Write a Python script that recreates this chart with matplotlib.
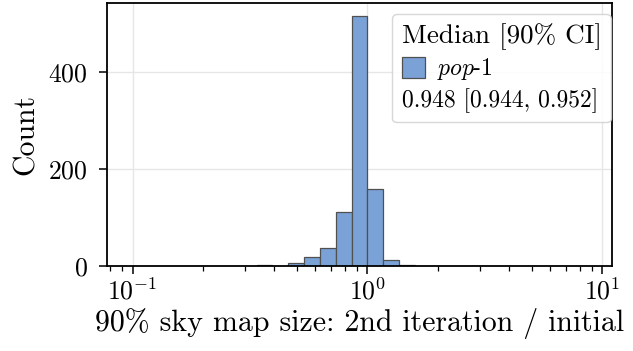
import matplotlib
matplotlib.use("Agg")
import matplotlib.pyplot as plt
import numpy as np
from matplotlib.patches import Patch

# histogram of the sky map size ratio (log-spaced bins)
bin_edges = np.logspace(-1.011, 0.9436, 30)
counts = [1, 0, 0, 0, 1, 0, 0, 0, 2, 1, 6, 19, 38, 111, 516,
          159, 12, 3, 0, 0, 0, 0, 0, 0, 0, 0, 0, 0, 1]
series_label = r"$\mathit{pop}$-$\mathit{1}$"
summary = "0.948 [0.944, 0.952]"

plt.rcParams["font.family"] = "serif"
plt.rcParams["font.serif"] = ["cmr10"]
plt.rcParams["mathtext.fontset"] = "cm"
plt.rcParams["axes.formatter.use_mathtext"] = True
plt.rcParams["font.size"] = 18.5

bar_color = "#7ba2d6"

fig = plt.figure(figsize=(6.33, 3.51), dpi=100)
ax = fig.add_axes([0.169, 0.242, 0.798, 0.749])

centers = np.sqrt(bin_edges[:-1] * bin_edges[1:])
ax.hist(centers, bins=bin_edges, weights=counts, color=bar_color,
        edgecolor="#505050", linewidth=0.9, zorder=2)
ax.set_xscale("log")

ax.grid(True, which="major", color="#e6e6e6", linewidth=1.0, zorder=0)
ax.set_axisbelow(True)
ax.set_yticks([0, 200, 400])

for s in ax.spines.values():
    s.set_linewidth(1.3)
ax.tick_params(which="major", length=5.8, width=1.1, direction="out",
               labelsize=18.5)
ax.tick_params(which="minor", length=3.6, width=0.9, direction="out")
ax.tick_params(axis="x", which="major", pad=2.5)
ax.tick_params(axis="y", which="major", pad=8)

ax.set_ylabel("Count", fontsize=21.5, labelpad=6)
ax.set_xlabel("90% sky map size: 2nd iteration / initial", fontsize=21.5,
              labelpad=3)

handles = [Patch(facecolor=bar_color, edgecolor="#505050", linewidth=0.9),
           Patch(visible=False)]
leg = ax.legend(handles, [series_label, summary], title="Median [90% CI]",
                loc="upper right", bbox_to_anchor=(0.998, 0.958),
                borderaxespad=0, fontsize=17, title_fontsize=19.5,
                handlelength=1.0, handleheight=1.0, handletextpad=0.5,
                labelspacing=0.25, borderpad=0.4, alignment="left",
                fancybox=True, framealpha=0.85, edgecolor="#d0d0d0")

# drop the empty handle so the summary line starts at the left edge
column = leg._legend_handle_box.get_children()[0]
row = column.get_children()[1]
row.get_children().pop(0)

plt.savefig("out.png", dpi=100)
